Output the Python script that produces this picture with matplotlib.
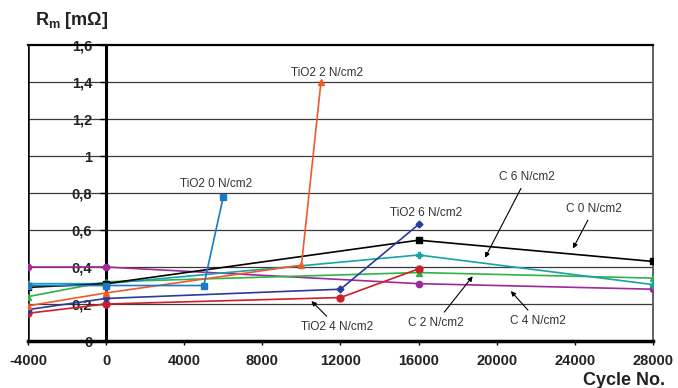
import matplotlib
matplotlib.use("Agg")
import matplotlib.pyplot as plt

plt.rcParams['font.family'] = ['Liberation Sans', 'DejaVu Sans']
plt.rcParams['mathtext.default'] = 'regular'

# measured resistance vs. cycle number, one list per coating / load
tio2_0_x = [-4000, 0, 5000, 6000]
tio2_0_y = [0.30, 0.30, 0.30, 0.78]
tio2_2_x = [-4000, 0, 10000, 11000]
tio2_2_y = [0.19, 0.26, 0.41, 1.40]
tio2_4_x = [-4000, 0, 12000, 16000]
tio2_4_y = [0.15, 0.20, 0.235, 0.39]
tio2_6_x = [-4000, 0, 12000, 16000]
tio2_6_y = [0.17, 0.23, 0.28, 0.63]

c_x = [-4000, 0, 16000, 28000]
c0_y = [0.29, 0.31, 0.545, 0.43]
c2_y = [0.24, 0.32, 0.37, 0.34]
c4_y = [0.40, 0.40, 0.31, 0.28]
c6_y = [0.31, 0.31, 0.465, 0.305]

xticks = [-4000, 0, 4000, 8000, 12000, 16000, 20000, 24000, 28000]
yticks = [0, 0.2, 0.4, 0.6, 0.8, 1.0, 1.2, 1.4, 1.6]
ytick_labels = ['0', '0,2', '0,4', '0,6', '0,8', '1', '1,2', '1,4', '1,6']

fig = plt.figure(figsize=(6.78, 3.88), dpi=100)
ax = fig.add_axes([0.0413, 0.1211, 0.9218, 0.7629])

# series: x, y, colour, marker, size
series = [
    (c_x, c4_y, '#a0289b', 'o', 4.5),
    (c_x, c2_y, '#2db34a', '^', 5),
    (c_x, c6_y, '#17a2a6', 'P', 4.5),
    (c_x, c0_y, '#000000', 's', 5),
    (tio2_4_x, tio2_4_y, '#cc1f2a', 'o', 5),
    (tio2_6_x, tio2_6_y, '#2b3a9e', 'D', 3.5),
    (tio2_2_x, tio2_2_y, '#f05a28', '^', 5),
    (tio2_0_x, tio2_0_y, '#1a7bc4', 's', 5),
]
for xs, ys, col, mk, ms in series:
    ax.plot(xs, ys, color=col, marker=mk, markersize=ms, linewidth=1.2, zorder=3)

ax.set_xlim(-4000, 28000)
ax.set_ylim(0, 1.6)
ax.set_xticks(xticks)
ax.set_xticklabels([str(v) for v in xticks])
ax.set_yticks(yticks)
ax.set_yticklabels(ytick_labels)

for y in yticks[1:-1]:
    ax.axhline(y, color='#3a3a3a', linewidth=0.9, zorder=1)

# y axis drawn through x = 0, outer frame line at x = -4000
ax.spines['left'].set_position(('data', 0))
ax.spines['left'].set_linewidth(2.2)
ax.spines['bottom'].set_linewidth(2.5)
ax.spines['top'].set_linewidth(1.6)
ax.spines['right'].set_color('#555555')
ax.spines['right'].set_linewidth(1.3)
ax.axvline(-4000, color='black', linewidth=1.8, zorder=1)

ax.tick_params(axis='y', direction='out', length=4, width=1, pad=6)
ax.tick_params(axis='x', direction='out', length=3, width=1, pad=6)
for lbl in ax.get_xticklabels() + ax.get_yticklabels():
    lbl.set_fontsize(10.5)
    lbl.set_fontweight('bold')
    lbl.set_color('#222222')

# curve labels
akw = dict(fontsize=8.5, color='#333333', ha='center', va='center')
arr = dict(arrowstyle='-|>', color='black', lw=0.8, mutation_scale=7, shrinkA=2, shrinkB=0)
ax.text(11300, 1.45, 'TiO2 2 N/cm2', **akw)
ax.text(5640, 0.85, 'TiO2 0 N/cm2', **akw)
ax.text(16360, 0.69, 'TiO2 6 N/cm2', **akw)
ax.annotate('C 6 N/cm2', xy=(19400, 0.45), xytext=(21540, 0.886), arrowprops=arr, **akw)
ax.annotate('C 0 N/cm2', xy=(23900, 0.50), xytext=(24970, 0.714), arrowprops=arr, **akw)
ax.annotate('C 2 N/cm2', xy=(18770, 0.35), xytext=(16870, 0.097), arrowprops=arr, **akw)
ax.annotate('C 4 N/cm2', xy=(20720, 0.27), xytext=(22100, 0.108), arrowprops=arr, **akw)
ax.annotate('TiO2 4 N/cm2', xy=(10510, 0.216), xytext=(11850, 0.076), arrowprops=arr, **akw)

fig.text(0.052, 0.973, r'R$_{\mathregular{m}}$ [mΩ]', fontsize=13, fontweight='bold',
         color='#222222', ha='left', va='top')
fig.text(0.920, 0.040, 'Cycle No.', fontsize=13, fontweight='bold',
         color='#222222', ha='center', va='top')

fig.savefig('out.png', dpi=100)
